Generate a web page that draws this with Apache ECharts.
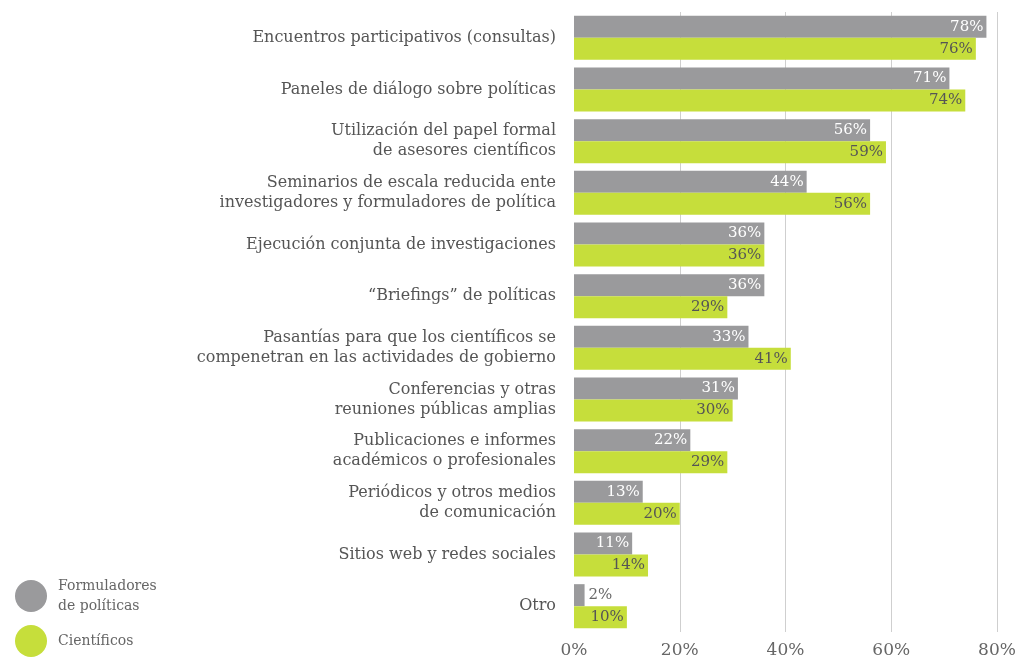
<!DOCTYPE html>
<html>
<head>
<meta charset="utf-8">
<script src="https://cdn.jsdelivr.net/npm/echarts@6/dist/echarts.min.js"></script>
<style>
  html, body { margin: 0; padding: 0; background: #ffffff; }
  #chart { width: 1019px; height: 659px; }
</style>
</head>
<body>
<div id="chart"></div>
<script>
// Mecanismos de interacción entre ciencia y política
const categories = [
  'Encuentros participativos (consultas)',
  'Paneles de diálogo sobre políticas',
  'Utilización del papel formal\nde asesores científicos',
  'Seminarios de escala reducida ente\ninvestigadores y formuladores de política',
  'Ejecución conjunta de investigaciones',
  '“Briefings” de políticas',
  'Pasantías para que los científicos se\ncompenetran en las actividades de gobierno',
  'Conferencias y otras\nreuniones públicas amplias',
  'Publicaciones e informes\nacadémicos o profesionales',
  'Periódicos y otros medios\nde comunicación',
  'Sitios web y redes sociales',
  'Otro'
];
const formuladores = [78, 71, 56, 44, 36, 36, 33, 31, 22, 13, 11, 2];
const cientificos  = [76, 74, 59, 56, 36, 29, 41, 30, 29, 20, 14, 10];
const xTicks = [0, 20, 40, 60, 80];

const seriesNames = ['Formuladores de políticas', 'Científicos'];
const FONT = 'DejaVu Serif';
const GRAY = '#9a9a9c';
const GREEN = '#c6de3b';

// Very short bars carry their label outside, to the right
function withLabels(values, insideColor) {
  return values.map(v => v < 5
    ? { value: v, label: { position: 'right', color: '#666', distance: 4 } }
    : { value: v, label: { color: insideColor } });
}

const chart = echarts.init(document.getElementById('chart'));
chart.setOption({
  backgroundColor: '#ffffff',
  animation: false,
  textStyle: { fontFamily: FONT },
  grid: { left: 574, right: 22, top: 12, bottom: 23, containLabel: false },
  legend: {
    orient: 'vertical',
    left: 10,
    top: 571,
    icon: 'circle',
    itemWidth: 32,
    itemHeight: 32,
    itemGap: 9,
    data: seriesNames,
    formatter: name => name === seriesNames[0] ? 'Formuladores\nde políticas' : name,
    textStyle: { fontFamily: FONT, fontSize: 14, color: '#666', lineHeight: 20, padding: [0, 0, 0, 6] }
  },
  xAxis: {
    type: 'value',
    min: xTicks[0],
    max: xTicks[xTicks.length - 1],
    interval: 20,
    axisLine: { show: false },
    axisTick: { show: false },
    axisLabel: { formatter: '{value}%', fontFamily: FONT, fontSize: 17, color: '#666', margin: 10 },
    splitLine: { show: true, showMinLine: false, lineStyle: { color: '#cfcfcf', width: 1 } }
  },
  yAxis: {
    type: 'category',
    inverse: true,
    data: categories,
    axisLine: { show: false },
    axisTick: { show: false },
    axisLabel: { fontFamily: FONT, fontSize: 16, color: '#555', margin: 18, lineHeight: 20, align: 'right' }
  },
  series: [
    {
      name: seriesNames[0],
      type: 'bar',
      data: withLabels(formuladores, '#ffffff'),
      barWidth: 22,
      barGap: '0%',
      itemStyle: { color: GRAY },
      label: { show: true, position: 'insideRight', distance: 3, formatter: '{c}%', fontFamily: FONT, fontSize: 15 }
    },
    {
      name: seriesNames[1],
      type: 'bar',
      data: withLabels(cientificos, '#555555'),
      barWidth: 22,
      barGap: '0%',
      itemStyle: { color: GREEN },
      label: { show: true, position: 'insideRight', distance: 3, formatter: '{c}%', fontFamily: FONT, fontSize: 15 }
    }
  ]
});
</script>
</body>
</html>
